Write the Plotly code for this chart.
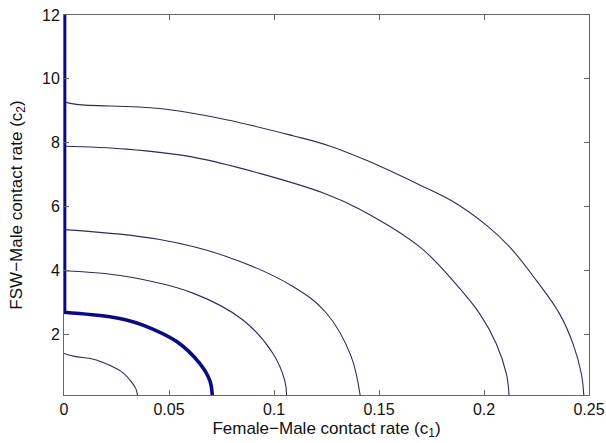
import plotly.graph_objects as go

# Contour curves (x = c1, y = c2)
a_x = [0.0, 0.005, 0.014, 0.022, 0.028, 0.032, 0.0342, 0.0350]
a_y = [1.40, 1.31, 1.22, 1.02, 0.80, 0.52, 0.30, 0.10]

b_x = [0.0, 0.0218, 0.0297, 0.0376, 0.0535, 0.0646, 0.0694, 0.0706]
b_y = [2.69, 2.55, 2.45, 2.29, 1.78, 1.09, 0.56, 0.10]

wall_x = [0.0004, 0.0004]
wall_y = [2.69, 12.0]

c_x = [0.0, 0.0297, 0.0614, 0.0852, 0.0995, 0.1051, 0.1060]
c_y = [3.99, 3.81, 3.29, 2.45, 1.40, 0.56, 0.10]

d_x = [0.0, 0.0456, 0.0773, 0.109, 0.125, 0.1365, 0.1410]
d_y = [5.28, 4.97, 4.44, 3.50, 2.66, 1.35, 0.10]

e_x = [0.0, 0.0297, 0.0614, 0.0932, 0.125, 0.1408, 0.1694, 0.1852, 0.198, 0.2059, 0.2107, 0.2119]
e_y = [7.89, 7.80, 7.55, 7.04, 6.39, 5.92, 4.74, 3.68, 2.64, 1.70, 0.75, 0.10]

f_x = [0.0, 0.006, 0.0456, 0.0773, 0.109, 0.1265, 0.144, 0.1694, 0.1852, 0.2011,
       0.2122, 0.225, 0.236, 0.2424, 0.2464, 0.2475]
f_y = [9.28, 9.20, 9.07, 8.72, 8.22, 7.90, 7.45, 6.68, 6.16, 5.42,
       4.74, 3.68, 2.64, 1.70, 0.75, 0.10]

x_ticks = [0, 0.05, 0.1, 0.15, 0.2, 0.25]
x_tick_labels = ["0", "0.05", "0.1", "0.15", "0.2", "0.25"]
y_ticks = [2, 4, 6, 8, 10, 12]
y_tick_labels = ["2", "4", "6", "8", "10", "12"]

thin = "#2b2b60"
thick = "#0a0a85"

fig = go.Figure()
for xs, ys in [(a_x, a_y), (c_x, c_y), (d_x, d_y), (e_x, e_y), (f_x, f_y)]:
    fig.add_trace(go.Scatter(x=xs, y=ys, mode="lines",
                             line=dict(color=thin, width=1.1, shape="spline", smoothing=1.1),
                             showlegend=False, hoverinfo="skip"))
fig.add_trace(go.Scatter(x=b_x, y=b_y, mode="lines",
                         line=dict(color=thick, width=3.6, shape="spline", smoothing=1.1),
                         showlegend=False, hoverinfo="skip"))
fig.add_trace(go.Scatter(x=wall_x, y=wall_y, mode="lines",
                         line=dict(color=thick, width=3),
                         showlegend=False, hoverinfo="skip", cliponaxis=False))

fam = "Liberation Sans, Arial, sans-serif"
tick_font = dict(family=fam, size=16, color="#111111")
title_font = dict(family=fam, size=17, color="#111111")
axis_common = dict(showgrid=False, zeroline=False, showline=True, linecolor="#666666",
                   linewidth=1, mirror="ticks", ticks="inside", ticklen=5,
                   tickcolor="#666666", tickfont=tick_font, automargin=False)

fig.update_layout(
    width=606, height=443,
    margin=dict(l=64, r=17, t=15, b=48),
    plot_bgcolor="white", paper_bgcolor="white",
    font=title_font,
    xaxis=dict(range=[0, 0.25], tickvals=x_ticks, ticktext=x_tick_labels,
               title=dict(text="Female\u2212Male contact rate (c<sub>1</sub>)", font=title_font, standoff=4),
               **axis_common),
    yaxis=dict(range=[0.1, 12], tickvals=y_ticks, ticktext=y_tick_labels,
               title=dict(text="FSW\u2212Male contact rate (c<sub>2</sub>)", font=title_font, standoff=15),
               **axis_common),
)

fig.write_html("out.html", config={"displayModeBar": False},
               post_script="document.body.style.margin='0';document.body.style.overflow='hidden';")
